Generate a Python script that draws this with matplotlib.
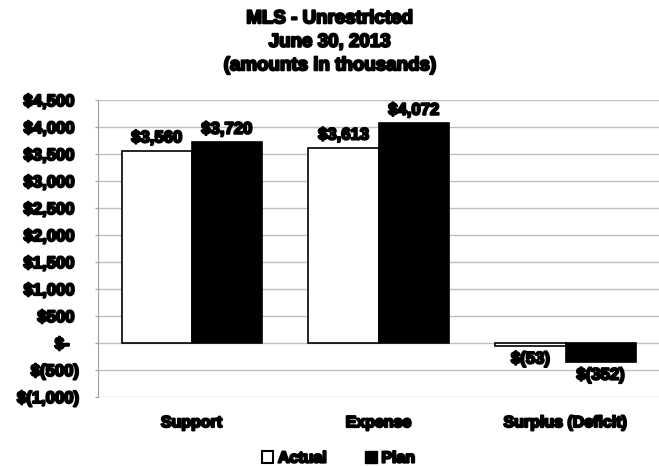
import matplotlib
matplotlib.use('Agg')
import matplotlib.pyplot as plt
import matplotlib.patheffects as pe
from matplotlib.patches import Patch
import numpy as np

categories = ['Support', 'Expense', 'Surplus (Deficit)']
actual = [3560, 3613, -53]
plan = [3720, 4072, -352]
actual_labels = ['$3,560', '$3,613', '$(53)']
plan_labels = ['$3,720', '$4,072', '$(352)']
yticks = [4500, 4000, 3500, 3000, 2500, 2000, 1500, 1000, 500, 0, -500, -1000]
# trailing spaces mimic the accounting format's room for ")"
ytick_labels = ['$4,500 ', '$4,000 ', '$3,500 ', '$3,000 ', '$2,500 ', '$2,000 ',
                '$1,500 ', '$1,000 ', '$500 ', '$-  ', '$(500)', '$(1,000)']

plt.rcParams['font.family'] = ['Liberation Sans', 'DejaVu Sans']
plt.rcParams['font.weight'] = 'bold'

# thicken glyphs toward an Arial Black look
heavy = [pe.withStroke(linewidth=1.5, foreground='black')]

fig = plt.figure(figsize=(6.59, 4.66), dpi=100)
ax = fig.add_axes([0.149, 0.148, 0.851, 0.637])

pos = np.arange(len(categories))
w = 0.375
b1 = ax.bar(pos - w/2, actual, w, color='white', edgecolor='black', linewidth=1.2, zorder=3)
b2 = ax.bar(pos + w/2, plan, w, color='black', edgecolor='black', linewidth=1.2, zorder=3)
for t in ax.bar_label(b1, labels=actual_labels, padding=4, fontsize=12) + \
         ax.bar_label(b2, labels=plan_labels, padding=4, fontsize=12):
    t.set_path_effects(heavy)

ax.set_xlim(-0.5, 2.5)
ax.set_ylim(-1000, 4500)
ax.set_yticks(yticks)
ax.set_yticklabels(ytick_labels, fontsize=12)
ax.set_xticks(pos)
ax.set_xticklabels(categories, fontsize=11.5)
for t in ax.get_xticklabels() + ax.get_yticklabels():
    t.set_path_effects(heavy)
ax.tick_params(axis='x', length=0, pad=13)
ax.tick_params(axis='y', length=2, color='#a0a0a0', pad=12)
ax.grid(axis='y', color='#c0c0c0', linewidth=1, zorder=0)
for s in ['top', 'right', 'bottom']:
    ax.spines[s].set_visible(False)
ax.spines['left'].set_color('#a0a0a0')

title = fig.suptitle('MLS - Unrestricted\nJune 30, 2013\n(amounts in thousands)',
                     y=0.978, fontsize=13.5, fontweight='bold', linespacing=1.5)
title.set_path_effects(heavy)

handles = [Patch(facecolor='white', edgecolor='black', linewidth=1.5, label='Actual'),
           Patch(facecolor='black', edgecolor='black', label='Plan')]
leg = fig.legend(handles=handles, loc='center', bbox_to_anchor=(0.514, 0.017), ncol=2,
                 frameon=False, fontsize=11.5, handlelength=0.7, handleheight=0.7,
                 handletextpad=0.3, columnspacing=2.4)
for t in leg.get_texts():
    t.set_path_effects(heavy)

plt.savefig('out.png', dpi=100)
